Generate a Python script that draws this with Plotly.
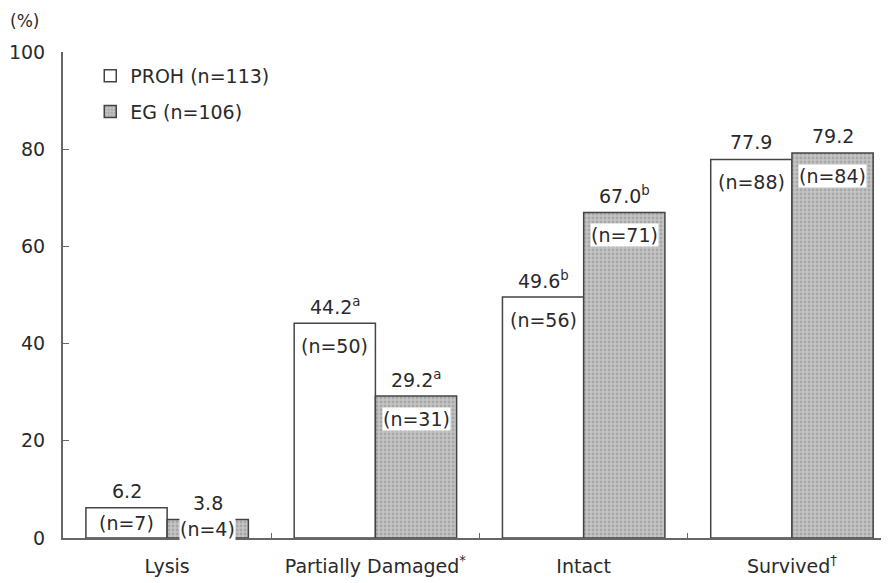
import plotly.graph_objects as go

categories = ["Lysis", "Partially Damaged<sup>*</sup>", "Intact", "Survived<sup>†</sup>"]
proh_values = [6.2, 44.2, 49.6, 77.9]
proh_n = [7, 50, 56, 88]
proh_sup = ["", "a", "b", ""]
eg_values = [3.8, 29.2, 67.0, 79.2]
eg_n = [4, 31, 71, 84]
eg_sup = ["", "a", "b", ""]
y_ticks = [0, 20, 40, 60, 80, 100]

# page body has an 8px default margin; compensate so the plot sits where intended
BODY = 8
W, H = 889 - BODY, 583 - BODY
PL, PR, PT, PB = 63, 889, 52, 538   # intended absolute plot-area edges
ML, MR, MT, MB = PL - BODY, 0, PT - BODY, 583 - PB
x_range = [-0.5, 3.466]
plot_w = PR - PL
plot_h = PB - PT
px_per_cat = plot_w / (x_range[1] - x_range[0])
px_per_unit = plot_h / 100.0
bargap = 0.22
bar_w_px = px_per_cat * (1 - bargap) / 2

FONT = "DejaVu Sans, Liberation Sans, Arial, sans-serif"
FS = 19
TXT = "#2a2a2a"
EDGE = "#444444"
AXC = "#666666"

fig = go.Figure()
fig.add_trace(go.Bar(
    x=categories, y=proh_values, name="PROH (n=113)",
    marker=dict(color="white", line=dict(color=EDGE, width=1.5)),
    legendgroup="a",
))
fig.add_trace(go.Bar(
    x=categories, y=eg_values, name="EG (n=106)",
    marker=dict(color="#bdbdbd", line=dict(color=EDGE, width=1.5),
                pattern=dict(shape=".", fgcolor="#8a8a8a", bgcolor="#c4c4c4", size=4, solidity=0.4)),
    legendgroup="b",
))

annotations = []
for vals, ns, sups, side, bg in [
    (proh_values, proh_n, proh_sup, -1, "rgba(0,0,0,0)"),
    (eg_values, eg_n, eg_sup, 1, "white"),
]:
    for cat, v, n, s in zip(categories, vals, ns, sups):
        xs = side * bar_w_px / 2
        label = f"{v:.1f}" + (f"<sup>{s}</sup>" if s else "")
        annotations.append(dict(
            x=cat, y=v, xref="x", yref="y", text=label, showarrow=False,
            xshift=xs, yshift=17, font=dict(family=FONT, size=FS, color=TXT),
        ))
        hpx = v * px_per_unit
        off = min(23, hpx / 2)
        annotations.append(dict(
            x=cat, y=v, xref="x", yref="y", text=f"(n={n})", showarrow=False,
            xshift=xs, yshift=-off, font=dict(family=FONT, size=FS, color=TXT),
            bgcolor=bg, borderpad=0,
        ))

annotations.append(dict(
    x=(8 - PL) / plot_w, y=1 + (PT - 21) / plot_h, xref="paper", yref="paper",
    text="(%)", showarrow=False, xanchor="left", yanchor="middle",
    font=dict(family=FONT, size=FS - 2, color=TXT),
))

fig.update_layout(
    width=W, height=H,
    margin=dict(l=ML, r=MR, t=MT, b=MB, pad=0),
    paper_bgcolor="white", plot_bgcolor="white",
    barmode="group", bargap=bargap, bargroupgap=0,
    font=dict(family=FONT, size=FS, color=TXT),
    showlegend=True,
    legend=dict(
        x=0.033, y=0.99, xanchor="left", yanchor="top",
        bgcolor="rgba(0,0,0,0)", font=dict(family=FONT, size=FS, color=TXT),
        tracegroupgap=8, itemwidth=30,
    ),
    annotations=annotations,
    xaxis=dict(
        range=x_range, showline=True, linecolor=AXC, linewidth=2,
        ticks="inside", tickson="boundaries", ticklen=5, tickcolor=AXC,
        showgrid=False, zeroline=False, automargin=False, ticklabelstandoff=10,
        tickfont=dict(family=FONT, size=FS, color=TXT),
    ),
    yaxis=dict(
        range=[0, 100], tickvals=y_ticks, ticktext=[str(t) for t in y_ticks],
        showline=True, linecolor=AXC, linewidth=2,
        ticks="inside", ticklen=6, tickcolor=AXC,
        showgrid=False, zeroline=False, ticklabelstandoff=12, automargin=False,
        tickfont=dict(family=FONT, size=FS, color=TXT),
    ),
)

fig.write_html("out.html")
